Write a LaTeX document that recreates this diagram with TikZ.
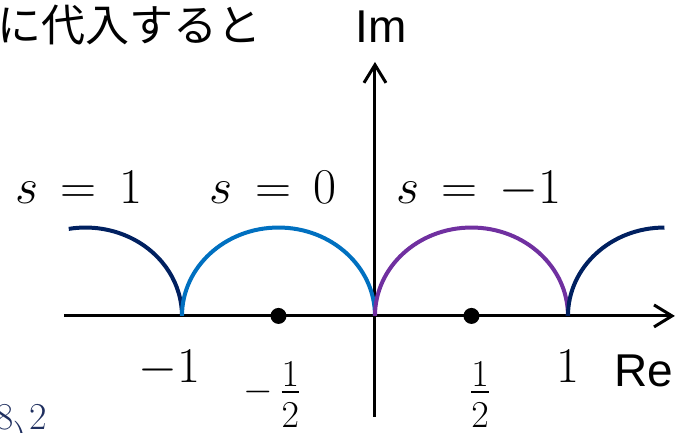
\RequirePackage{fix-cm}
\documentclass[tikz,border=0pt]{standalone}
\usepackage{amsmath}
\usepackage{fontspec}
\setsansfont{Liberation Sans}
\newfontfamily\jpfont{Noto Sans CJK JP}
\usetikzlibrary{
  arrows.meta,
  positioning
}
\definecolor{sNavy}{HTML}{002060}
\definecolor{sBlue}{HTML}{0070C0}
\definecolor{sPurple}{HTML}{7030A0}
\definecolor{eqNavy}{HTML}{1F2F5F}
\newcommand{\halffrac}{\frac{\textstyle 1}{\textstyle\rule{0pt}{0.87em}2}}

\begin{document}
\begin{tikzpicture}[x=96.5pt, y=96.5pt,
  axis/.style={line width=1.5pt, -{Straight Barb[length=9pt, width=11pt]}},
  branch/.style={line width=2pt},
  dot/.style={circle, fill=black, inner sep=0pt, minimum size=8pt},
  lbl/.style={font=\fontsize{25}{30}\selectfont, inner sep=0pt, anchor=base},
  fraclbl/.style={font=\fontsize{19}{23}\selectfont, inner sep=0pt, anchor=base},
  axlbl/.style={font=\fontsize{23}{28}\selectfont\sffamily, inner sep=0pt, anchor=base},
  jp/.style={font=\fontsize{22}{26}\selectfont\jpfont, inner sep=0pt}]
  \useasboundingbox (-1.943,-0.606) rectangle (1.596,1.637);
  % axes
  \coordinate (reL) at (-1.611,0);
  \coordinate (reR) at (1.554,0);
  \coordinate (imB) at (0,-0.523);
  \coordinate (imT) at (0,1.316);
  \draw[axis] (reL) -- (reR);
  \draw[axis] (imB) -- (imT);
  \node[axlbl] (reLbl) at (1.391,-0.368) {Re};
  \node[axlbl] (imLbl) at (0.031,1.415) {Im};
  % arcs for s = 1, 0, -1
  \draw[branch, sNavy] (-1,0) arc[start angle=0, end angle=100, x radius=0.5, y radius=0.458];
  \draw[branch, sBlue] (0,0) arc[start angle=0, end angle=180, x radius=0.5, y radius=0.458];
  \draw[branch, sPurple] (1,0) arc[start angle=0, end angle=180, x radius=0.5, y radius=0.458];
  \draw[branch, sNavy] (1,0) arc[start angle=180, end angle=90, x radius=0.5, y radius=0.458];
  \node[dot] (mHalf) at (-0.5,0) {};
  \node[dot] (pHalf) at (0.5,0) {};
  % labels
  \node[lbl] (sOne) at (-1.534,0.585) {$s\mathrel{\,=\,}1$};
  \node[lbl] (sZero) at (-0.528,0.585) {$s\mathrel{\,=\,}0$};
  \node[lbl] (sMinus) at (0.539,0.585) {$s\mathrel{\,=\,}-1$};
  \node[lbl] (mOne) at (-1.067,-0.347) {$-1$};
  \node[lbl] (pOne) at (1.0,-0.347) {$1$};
  \node[fraclbl] (mHalfLbl) at (-0.531,-0.443) {$-\,\halffrac$};
  \node[fraclbl] (pHalfLbl) at (0.544,-0.443) {$\halffrac$};
  % cut-off text of the slide
  \node[jp, anchor=east] (intro) at (-0.585,1.508) {に代入すると};
  \node[font=\fontsize{19}{23}\selectfont, text=eqNavy, inner sep=0pt, anchor=north west] (eqTail) at (-1.966,-0.461) {$8\raisebox{-11pt}{$\bigr)$}2$};
\end{tikzpicture}
\end{document}
